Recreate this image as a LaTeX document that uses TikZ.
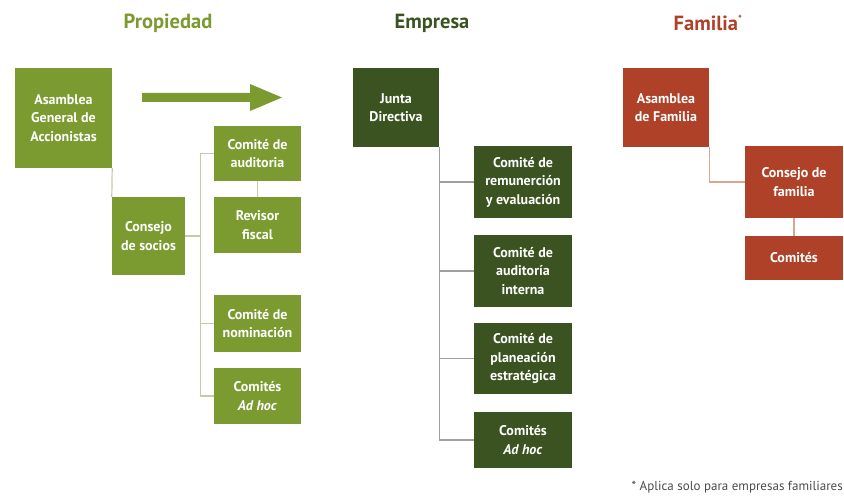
\documentclass[tikz,border=0pt]{standalone}
\usepackage{fontspec}
\setmainfont{PT Sans}
\definecolor{pgreen}{HTML}{7B9A2F}
\definecolor{egreen}{HTML}{3A5320}
\definecolor{fred}{HTML}{AE4128}
\definecolor{pline}{HTML}{C5CBA6}
\definecolor{eline}{HTML}{A0A0A0}
\definecolor{fline}{HTML}{D9A595}
\tikzset{
  box/.style={inner sep=2pt, align=center, text=white, font=\fontsize{14}{18.5}\selectfont\bfseries},
  pbox/.style={box, fill=pgreen},
  ebox/.style={box, fill=egreen},
  fbox/.style={box, fill=fred},
  ttl/.style={font=\fontsize{20.5}{24}\selectfont\bfseries},
  pcon/.style={draw=pline, line width=1.2pt},
  econ/.style={draw=eline, line width=1.2pt},
  fcon/.style={draw=fline, line width=1.2pt},
}
\begin{document}
\begin{tikzpicture}[x=1pt,y=-1pt]
\useasboundingbox[fill=white] (0,0) rectangle (844,497);
% titles
\node[ttl, text=pgreen] (tp) at (168,23) {Propiedad};
\node[ttl, text=egreen] (te) at (432,23) {Empresa};
\node[ttl, text=fred] (tf) at (708,23) {Familia\textsuperscript{\fontsize{10}{10}\selectfont*}};
% Propiedad
\node[pbox, minimum width=97, minimum height=100] (pA) at (63.5,118) {Asamblea\\General de\\Accionistas};
\node[pbox, minimum width=73, minimum height=78] (pC) at (148.5,236) {Consejo\\de socios};
\node[pbox, minimum width=87, minimum height=55] (pAu) at (257.5,153.5) {Comité de\\auditoria};
\node[pbox, minimum width=87, minimum height=56] (pRe) at (257.5,225) {Revisor\\fiscal};
\node[pbox, minimum width=87, minimum height=57] (pNo) at (257.5,323.5) {Comité de\\nominación};
\node[pbox, minimum width=87, minimum height=56] (pAd) at (257.5,396) {Comités\\\textit{Ad hoc}};
\fill[pgreen] (142,93) -- (250,93) -- (250,84) -- (282,97.5) -- (250,111) -- (250,102) -- (142,102) -- cycle;
\draw[pcon] (pA.south east) -- (pC.north west);
\draw[pcon] (pAu.west) -- ++(-13,0) coordinate (pbus) |- (pAd.west);
\draw[pcon] (pC.east) -- (pC.east -| pbus);
\draw[pcon] (pNo.west) -- (pNo.west -| pbus);
\draw[pcon] (pAu.south) -- (pRe.north);
% Empresa
\node[ebox, minimum width=86, minimum height=79] (eJ) at (396,107.5) {Junta\\Directiva};
\node[ebox, minimum width=98, minimum height=72] (eRe) at (523,182) {Comité de\\remunerción\\y evaluación};
\node[ebox, minimum width=98, minimum height=72] (eAu) at (523,271) {Comité de\\auditoría\\interna};
\node[ebox, minimum width=98, minimum height=71] (ePl) at (523,358.5) {Comité de\\planeación\\estratégica};
\node[ebox, minimum width=98, minimum height=56] (eAd) at (523,440) {Comités\\\textit{Ad hoc}};
\draw[econ] (eJ.south east) |- (eAd.west);
\draw[econ] (eRe.west) -- (eRe.west -| eJ.south east);
\draw[econ] (eAu.west) -- (eAu.west -| eJ.south east);
\draw[econ] (ePl.west) -- (ePl.west -| eJ.south east);
% Familia
\node[fbox, minimum width=86, minimum height=79] (fA) at (666,107.5) {Asamblea\\de Familia};
\node[fbox, minimum width=98, minimum height=72] (fC) at (794,182) {Consejo de\\familia};
\node[fbox, minimum width=98, minimum height=44] (fCo) at (794,258) {Comités};
\draw[fcon] (fA.south east) |- (fC.west);
\draw[fcon] (fC.south) -- (fCo.north);
% footnote
\node[anchor=base east, inner sep=0pt, text=black!70, font=\fontsize{13}{14}\selectfont] (fn) at (843,490) {* Aplica solo para empresas familiares};
\end{tikzpicture}
\end{document}
